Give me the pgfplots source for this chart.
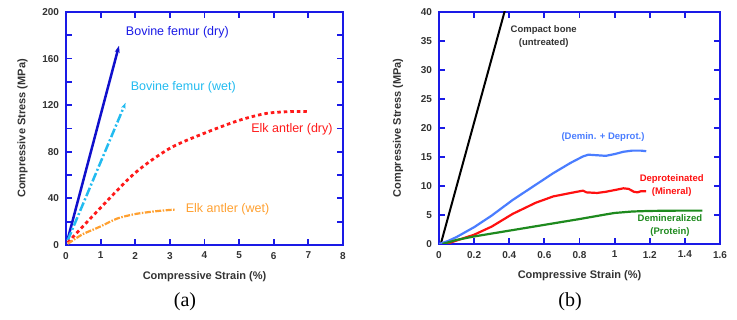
\documentclass[border=0pt]{standalone}
\usepackage{pgfplots}
\pgfplotsset{compat=1.18}
\usepackage{fontspec}
\setmainfont{Liberation Sans}
\newfontfamily\seriffont{Liberation Serif}
\usetikzlibrary{arrows.meta}
\definecolor{axblue}{HTML}{1A1AE6}
\definecolor{txtgray}{HTML}{333333}
\definecolor{bdry}{HTML}{1010CC}
\definecolor{bwet}{HTML}{22BBF0}
\definecolor{edry}{HTML}{FF1A1A}
\definecolor{ewet}{HTML}{FFA030}
\definecolor{bblue}{HTML}{4A7DFF}
\definecolor{bred}{HTML}{FF1010}
\definecolor{bgreen}{HTML}{1E8A1E}
\pgfplotsset{panel/.style={
  scale only axis,
  axis line style={axblue, line width=2pt},
  /pgf/number format/assume math mode=true,
  ticklabel style={font=\fontsize{10}{12}\selectfont\bfseries, text=txtgray},
  xticklabel style={yshift=-3.5pt},
  yticklabel style={xshift=-3.5pt},
  label style={font=\fontsize{11}{13}\selectfont\bfseries, text=txtgray},
  clip=true,
}}
\begin{document}
\begin{tikzpicture}
\useasboundingbox (0,0) rectangle (737pt,320pt);
% ---------------- panel (a)
\begin{axis}[panel,
  at={(66pt,75pt)}, anchor=south west,
  width=277pt, height=233pt,
  xmin=0, xmax=8, ymin=0, ymax=200,
  xtick={0,1,2,3,4,5,6,7,8}, ytick={0,40,80,120,160,200},
  minor ytick={20,60,100,140,180},
  tick style={axblue, line width=1.8pt},
  tick align=inside,
  major tick length=6pt, minor tick length=6pt,
  xlabel={Compressive Strain (\%)},
  ylabel={Compressive Stress (MPa)},
  xlabel style={at={(axis description cs:0.5,-0.137)}, anchor=center},
  ylabel style={at={(axis description cs:-0.157,0.5)}, anchor=center},
]
\addplot[draw=bdry, line width=2.5pt, -{Stealth[length=7pt,width=5pt]}] coordinates {(0.05,5) (1.53,171)};
\addplot[draw=bwet, line width=2.5pt, dash pattern=on 9pt off 2.5pt on 2pt off 2.5pt, -{Stealth[length=6pt,width=4.5pt]}] coordinates {(0.05,4) (1.72,122)};
\addplot[draw=edry, line width=2.8pt, dash pattern=on 3.5pt off 3pt, smooth] coordinates {
 (0.05,2) (0.3,10) (1,32) (2,62) (3,83) (4,96) (5,107) (5.8,113) (6.5,114.5) (7,114.5)};
\addplot[draw=ewet, line width=2.2pt, dash pattern=on 6pt off 1.5pt on 1.5pt off 1.5pt, smooth] coordinates {
 (0.05,1) (0.2,4) (0.5,9.5) (0.98,15.7) (1.47,22.6) (1.95,26.3) (2.4,28.3) (2.8,29.6) (3.15,30.4)};
\node[anchor=west, text=axblue, font=\fontsize{12.5}{14}\selectfont] at (axis cs:1.63,183) {Bovine femur (dry)};
\node[anchor=west, text=bwet, font=\fontsize{12.5}{14}\selectfont] at (axis cs:1.77,135) {Bovine femur (wet)};
\node[anchor=west, text=edry, font=\fontsize{12.5}{14}\selectfont] at (axis cs:5.25,99.5) {Elk antler (dry)};
\node[anchor=west, text=ewet, font=\fontsize{12.5}{14}\selectfont] at (axis cs:3.36,30.8) {Elk antler (wet)};
\end{axis}
% ---------------- panel (b)
\begin{axis}[panel,
  at={(439pt,76pt)}, anchor=south west,
  width=281pt, height=232pt,
  xmin=0, xmax=1.6, ymin=0, ymax=40,
  xtick={0,0.2,0.4,0.6,0.8,1,1.2,1.4,1.6}, ytick={0,5,10,15,20,25,30,35,40},
  xticklabels={0,0.2,0.4,0.6,0.8,1,1.2,1.4,1.6},
  tick style={axblue, line width=1.8pt},
  tick align=inside,
  major tick length=6pt, minor tick length=6pt,
  xlabel={Compressive Strain (\%)},
  ylabel={Compressive Stress (MPa)},
  xlabel style={at={(axis description cs:0.5,-0.138)}, anchor=center},
  ylabel style={at={(axis description cs:-0.146,0.5)}, anchor=center},
]
\addplot[draw=black, line width=2pt] coordinates {(0.01,0) (0.38,40.8)};
\addplot[draw=bblue, line width=2.2pt, line join=round] coordinates {
 (0,0) (0.05,0.5) (0.1,1.2) (0.2,2.9) (0.3,4.9) (0.42,7.6) (0.55,10.2) (0.65,12.2) (0.75,14.0) (0.82,15.1) (0.85,15.4) (0.9,15.3) (0.95,15.2) (1.0,15.5) (1.05,15.9) (1.1,16.1) (1.15,16.1) (1.18,16.0)};
\addplot[draw=bred, line width=2.2pt, line join=round] coordinates {
 (0.04,0) (0.1,0.6) (0.2,1.6) (0.3,3.0) (0.42,5.2) (0.55,7.1) (0.65,8.2) (0.75,8.8) (0.82,9.2) (0.84,8.9) (0.9,8.8) (0.95,9.0) (1.0,9.3) (1.05,9.6) (1.08,9.5) (1.11,9.0) (1.13,8.9) (1.15,9.1) (1.18,9.1)};
\addplot[draw=bgreen, line width=2.2pt, line join=round] coordinates {
 (0.02,0) (0.1,0.7) (0.2,1.3) (0.4,2.3) (0.6,3.3) (0.8,4.3) (0.95,5.1) (1.0,5.35) (1.1,5.6) (1.2,5.7) (1.35,5.75) (1.5,5.75)};
\node[align=center, text=txtgray, font=\fontsize{9.5}{12.5}\selectfont\bfseries] at (axis cs:0.596,35.8) {Compact bone\\(untreated)};
\node[text=bblue, font=\fontsize{9.5}{12}\selectfont\bfseries] at (axis cs:0.934,18.5) {(Demin. + Deprot.)};
\node[align=center, text=bred, font=\fontsize{9.5}{12.5}\selectfont\bfseries] at (axis cs:1.325,10.05) {Deproteinated\\(Mineral)};
\node[align=center, text=bgreen, font=\fontsize{9.5}{12.5}\selectfont\bfseries] at (axis cs:1.315,3.2) {Demineralized\\(Protein)};
\end{axis}
\node[font=\seriffont\fontsize{20}{22}\selectfont] at (185pt,18pt) {(a)};
\node[font=\seriffont\fontsize{20}{22}\selectfont] at (570pt,18pt) {(b)};
\end{tikzpicture}
\end{document}
